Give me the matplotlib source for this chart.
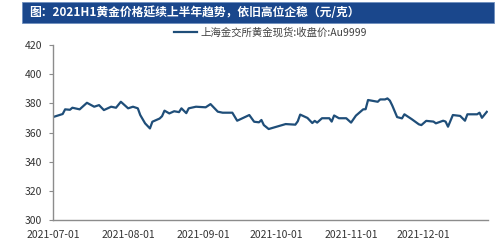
import numpy as np
import pandas as pd
import matplotlib
matplotlib.use("Agg")
import matplotlib.pyplot as plt
import matplotlib.dates as mdates
from matplotlib.patches import Rectangle

plt.rcParams['font.family'] = ['Noto Sans CJK SC', 'DejaVu Sans']

title = "图：2021H1黄金价格延续上半年趋势，依旧高位企稳（元/克）"
series_name = "上海金交所黄金现货:收盘价:Au9999"

dates = ["2021-07-01", "2021-07-05", "2021-07-06", "2021-07-08", "2021-07-09",
         "2021-07-12", "2021-07-15", "2021-07-18", "2021-07-20", "2021-07-22",
         "2021-07-25", "2021-07-27", "2021-07-29", "2021-08-01", "2021-08-03",
         "2021-08-05", "2021-08-06", "2021-08-08", "2021-08-10", "2021-08-11",
         "2021-08-14", "2021-08-15", "2021-08-16", "2021-08-18", "2021-08-20",
         "2021-08-22", "2021-08-23", "2021-08-25", "2021-08-26", "2021-08-29",
         "2021-09-02", "2021-09-04", "2021-09-07", "2021-09-09", "2021-09-13",
         "2021-09-15", "2021-09-20", "2021-09-22", "2021-09-24", "2021-09-25",
         "2021-09-26", "2021-09-28", "2021-10-05", "2021-10-09", "2021-10-10",
         "2021-10-11", "2021-10-14", "2021-10-16", "2021-10-17", "2021-10-18",
         "2021-10-20", "2021-10-23", "2021-10-24", "2021-10-25", "2021-10-27",
         "2021-10-30", "2021-11-01", "2021-11-03", "2021-11-06", "2021-11-07",
         "2021-11-08", "2021-11-12", "2021-11-13", "2021-11-15", "2021-11-16",
         "2021-11-17", "2021-11-18", "2021-11-20", "2021-11-22", "2021-11-23",
         "2021-11-26", "2021-11-29", "2021-11-30", "2021-12-02", "2021-12-05",
         "2021-12-06", "2021-12-09", "2021-12-10", "2021-12-11", "2021-12-13",
         "2021-12-16", "2021-12-18", "2021-12-19", "2021-12-23", "2021-12-24",
         "2021-12-25", "2021-12-27"]
prices = [370.6, 372.7, 375.9, 375.6, 377.0,
          375.9, 380.4, 377.7, 378.8, 375.4,
          377.7, 377.0, 381.1, 376.6, 377.7,
          376.6, 372.0, 366.3, 362.8, 367.4,
          369.6, 371.2, 375.0, 373.1, 374.6,
          374.0, 376.6, 373.3, 376.6, 377.7,
          377.3, 379.5, 374.3, 373.6, 373.6,
          368.1, 372.0, 367.4, 367.0, 368.6,
          365.1, 362.4, 365.8, 365.4, 367.7,
          372.3, 370.0, 366.5, 368.0, 366.8,
          369.8, 369.8, 367.5, 371.7, 369.8,
          369.8, 366.8, 371.6, 375.9, 376.0,
          382.3, 381.1, 382.7, 382.7, 383.4,
          381.9, 378.5, 370.6, 369.7, 372.5,
          369.2, 365.6, 365.1, 368.0, 367.5,
          366.3, 368.1, 367.5, 364.0, 372.0,
          371.4, 368.1, 372.5, 372.5, 373.6,
          370.1, 374.2]

tick_dates = ["2021-07-01", "2021-08-01", "2021-09-01", "2021-10-01", "2021-11-01", "2021-12-01"]
yticks = [300, 320, 340, 360, 380, 400, 420]

x = pd.to_datetime(dates)

fig = plt.figure(figsize=(5, 2.4), dpi=100)
ax = fig.add_axes([0.106, 0.0833, 0.87, 0.729])

ax.plot(x, prices, color="#1f4e79", lw=1.6, label=series_name)

ax.set_ylim(300, 420)
ax.set_yticks(yticks)
ax.set_xlim(pd.Timestamp("2021-07-01"), pd.Timestamp("2021-12-27 12:00"))
ax.set_xticks(pd.to_datetime(tick_dates))
ax.xaxis.set_major_formatter(mdates.DateFormatter("%Y-%m-%d"))

for s in ["top", "right"]:
    ax.spines[s].set_visible(False)
for s in ["left", "bottom"]:
    ax.spines[s].set_color("#8c8c8c")
    ax.spines[s].set_linewidth(1.0)
ax.tick_params(axis="y", length=3, color="#8c8c8c", labelsize=7.5, labelcolor="#333333", pad=5)
ax.tick_params(axis="x", length=0, labelsize=7.5, labelcolor="#333333", pad=7)

leg = ax.legend(loc="lower center", bbox_to_anchor=(0.5, 1.0), frameon=False,
                fontsize=7.5, handlelength=2.2, handletextpad=0.4, borderaxespad=0.3)
for t in leg.get_texts():
    t.set_color("#404040")

# title bar
fig.patches.append(Rectangle((0.044, 0.905), 0.944, 0.088, transform=fig.transFigure,
                             facecolor="#1a478c", edgecolor="#6f8fbf", lw=0.6))
fig.text(0.058, 0.949, title, color="white", fontsize=8.5, fontweight="bold",
         va="center", ha="left")

plt.savefig("out.png", dpi=100)
